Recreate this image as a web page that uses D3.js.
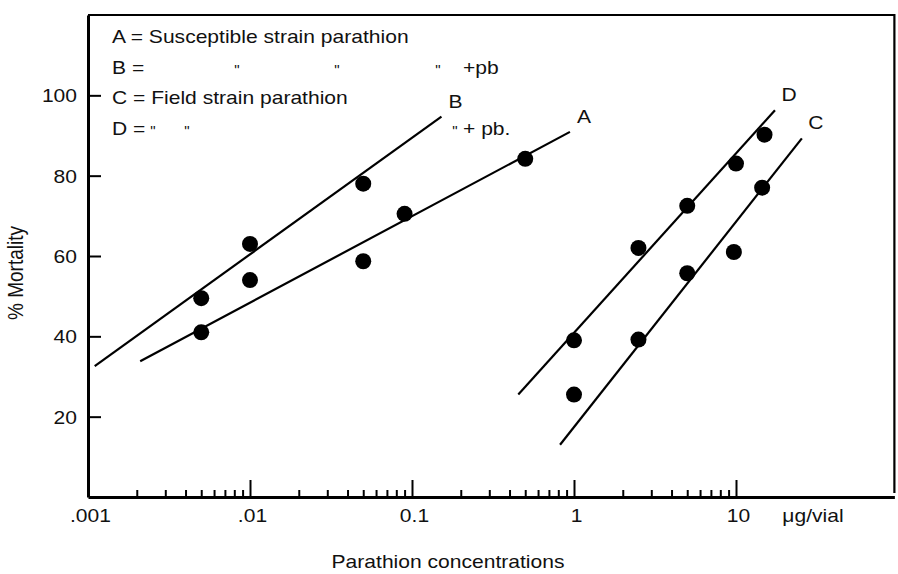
<!DOCTYPE html>
<head>
  <meta charset="utf-8">
  <script src="https://d3js.org/d3.v7.min.js"></script>
  <style>
    body { margin: 0; background: #fff; }
    svg { width: 898px; height: 574px; display: block; }
    text { font-family: 'Liberation Sans', Arial, sans-serif; fill: #111; }
  </style>
</head>

<body>
  <svg></svg>

  <script>
    const width = 898;
    const height = 574;

    // points: dose (ug/vial) and % mortality
    const doseA = [0.005, 0.01, 0.05, 0.09, 0.5];
    const mortA = [41, 54, 58.7, 70.5, 84.2];
    const doseB = [0.005, 0.01, 0.05];
    const mortB = [49.5, 63, 78];
    const doseC = [1, 2.5, 5, 9.7, 14.5];
    const mortC = [25.5, 39.2, 55.7, 61, 77];
    const doseD = [1, 2.5, 5, 10, 15];
    const mortD = [39, 62, 72.5, 83, 90.2];

    // fitted lines, start and end of each
    const fitNames = ['A', 'B', 'C', 'D'];
    const fitDose = [[0.0021, 0.944], [0.0011, 0.152], [0.82, 25.5], [0.453, 17.4]];
    const fitMort = [[33.8, 90.9], [32.6, 94.7], [13, 89.3], [25.5, 96.3]];

    const decadeTicks = [0.001, 0.01, 0.1, 1, 10];
    const decadeLabels = ['.001', '.01', '0.1', '1', '10'];
    const yTicks = [20, 40, 60, 80, 100];

    const legendKeys = ['A =', 'B =', 'C =', 'D ='];
    const legendText = ['Susceptible strain parathion', '', 'Field strain parathion', ''];

    // the scan is a bit wider than it is tall, so stretch text sideways
    const sx = 1.17;

    const svg = d3.select('svg');

    const x = d3.scaleLog()
      .domain([0.001, 95])
      .range([88, 88 + 162 * Math.log10(95 / 0.001)]);
    const y = d3.scaleLinear()
      .domain([0, 120])
      .range([497, 15]);

    // minor log ticks 2..9 in each decade up to 10
    const minorTicks = [];
    decadeTicks.slice(0, 4).forEach(d => {
      d3.range(2, 10).forEach(k => minorTicks.push(d * k));
    });

    /*****************************************************
    ** frame
    ******************************************************/
    svg.append('path')
      .attr('d', `M${x.range()[0]},${y.range()[1]}H${x.range()[1]}V${y.range()[0] - 4}`)
      .attr('fill', 'none')
      .attr('stroke', '#000')
      .attr('stroke-width', 2.2);

    /*****************************************************
    ** axes
    ******************************************************/
    const gMinor = svg.append('g')
      .attr('transform', `translate(0,${y(0)})`)
      .call(d3.axisBottom(x).tickValues(minorTicks).tickSize(-7).tickSizeOuter(0).tickFormat(''));
    gMinor.select('.domain').remove();

    const gx = svg.append('g')
      .attr('transform', `translate(0,${y(0)})`)
      .call(d3.axisBottom(x)
        .tickValues(decadeTicks)
        .tickSize(-17)
        .tickSizeOuter(0)
        .tickFormat((d, i) => decadeLabels[i]));

    gx.selectAll('.tick text')
      .attr('y', 0)
      .attr('dy', 0)
      .attr('font-size', 18)
      .attr('transform', `translate(2,25) scale(${sx},1)`);

    const gy = svg.append('g')
      .attr('transform', `translate(${x.range()[0]},0)`)
      .call(d3.axisLeft(y).tickValues(yTicks).tickSize(-13).tickSizeOuter(0));

    gy.selectAll('.tick text')
      .attr('x', 0)
      .attr('dy', '0.36em')
      .attr('font-size', 18)
      .attr('transform', `translate(-11,0) scale(${sx},1)`);

    svg.selectAll('.domain')
      .attr('stroke', '#000')
      .attr('stroke-width', 3);
    svg.selectAll('.tick line')
      .attr('stroke', '#000')
      .attr('stroke-width', 2);

    svg.append('text')
      .attr('transform', `translate(813,522) scale(${sx},1)`)
      .attr('text-anchor', 'middle')
      .attr('font-size', 18)
      .text('\u03BCg/vial');

    svg.append('text')
      .attr('transform', `translate(448,568) scale(${sx},1)`)
      .attr('text-anchor', 'middle')
      .attr('font-size', 18)
      .text('Parathion concentrations');

    svg.append('text')
      .attr('transform', `translate(23,273) rotate(-90) scale(1,${sx})`)
      .attr('text-anchor', 'middle')
      .attr('font-size', 19)
      .text('% Mortality');

    /*****************************************************
    ** fitted lines and labels
    ******************************************************/
    const fits = fitNames.map((name, i) => ({
      name,
      pts: fitDose[i].map((d, j) => [d, fitMort[i][j]])
    }));

    const line = d3.line().x(d => x(d[0])).y(d => y(d[1]));

    svg.append('g').selectAll('path')
      .data(fits)
      .enter().append('path')
      .attr('d', d => line(d.pts))
      .attr('fill', 'none')
      .attr('stroke', '#000')
      .attr('stroke-width', 2.2);

    svg.append('g').selectAll('text')
      .data(fits)
      .enter().append('text')
      .attr('transform', d => `translate(${x(d.pts[1][0]) + 14},${y(d.pts[1][1]) - 9}) scale(${sx},1)`)
      .attr('text-anchor', 'middle')
      .attr('font-size', 18)
      .text(d => d.name);

    /*****************************************************
    ** points
    ******************************************************/
    const points = [];
    [[doseA, mortA], [doseB, mortB], [doseC, mortC], [doseD, mortD]].forEach(s => {
      s[0].forEach((d, i) => points.push([d, s[1][i]]));
    });

    svg.append('g').selectAll('circle')
      .data(points)
      .enter().append('circle')
      .attr('cx', d => x(d[0]))
      .attr('cy', d => y(d[1]))
      .attr('r', 8)
      .attr('fill', '#000');

    /*****************************************************
    ** legend
    ******************************************************/
    const legend = svg.append('g');
    legendKeys.forEach((k, i) => {
      legend.append('text')
        .attr('transform', `translate(112,${43 + i * 30.7}) scale(${sx},1)`)
        .attr('font-size', 18)
        .text(legendText[i] ? k + ' ' + legendText[i] : k);
    });

    // ditto marks for rows B and D
    const dittoX = [[237, 337, 438], [153, 187, 455]];
    const dittoRow = [1, 3];
    const dittoTail = ['+pb', '+ pb.'];
    dittoRow.forEach((row, j) => {
      const yy = 43 + row * 30.7;
      dittoX[j].forEach(xx => {
        legend.append('text')
          .attr('x', xx)
          .attr('y', yy + 1)
          .attr('text-anchor', 'middle')
          .attr('font-size', 15)
          .attr('fill', '#000')
          .text('"');
      });
      legend.append('text')
        .attr('transform', `translate(463,${yy}) scale(${sx},1)`)
        .attr('font-size', 18)
        .text(dittoTail[j]);
    });
  </script>
</body>
